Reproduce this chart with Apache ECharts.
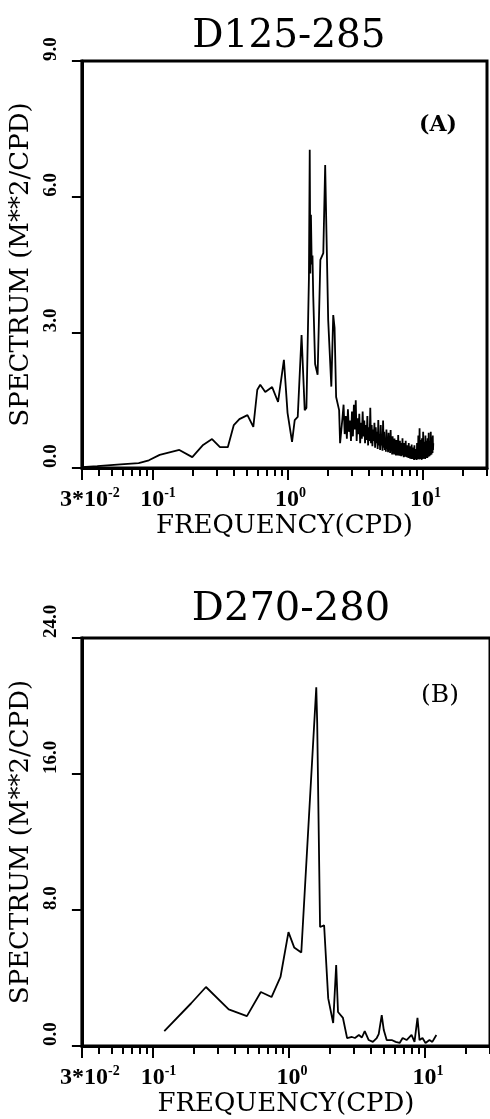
<!DOCTYPE html>
<html><head><meta charset="utf-8">
<script src="https://cdn.jsdelivr.net/npm/echarts@6/dist/echarts.min.js"></script>
<style>html,body{margin:0;padding:0;background:#fff;} #c{width:490px;height:1119px;}</style>
</head><body><div id="c"></div>
<script>
// ---------- DATA ----------
const titles = ['D125-285', 'D270-280'];
const panelTags = ['(A)', '(B)'];
const xName = 'FREQUENCY(CPD)';
const yName = 'SPECTRUM (M**2/CPD)';
const xMajorTicks = [0.03, 0.1, 1, 10];
const xTickBase = ['3*10', '10', '10', '10'];
const xTickExp = ['-2', '-1', '0', '1'];
const xMinorTicks = [0.04,0.05,0.06,0.07,0.08,0.09,0.2,0.3,0.4,0.5,0.6,0.7,0.8,0.9,2,3,4,5,6,7,8,9,20,30];
const yMaxA = 9, yStepA = 3;
const yMaxB = 24, yStepB = 8;

// Panel A, low-frequency part (CPD, M**2/CPD)
const freqA = [0.03,0.039,0.058,0.079,0.094,0.113,0.158,0.197,0.237,0.276,0.316,0.361,0.40,0.44,0.505,0.558,0.597,0.628,0.684,0.769,0.851,0.94,1.0,1.08,1.13,1.19,1.27,1.34,1.38,1.44,1.46,1.475,1.49,1.51,1.53,1.55,1.60,1.67,1.75,1.84,1.90,1.94,2.0,2.11,2.18,2.23,2.29,2.41,2.45];
const specA = [0.02,0.04,0.08,0.11,0.17,0.29,0.40,0.24,0.51,0.64,0.46,0.46,0.95,1.08,1.17,0.91,1.73,1.84,1.68,1.79,1.46,2.39,1.22,0.58,1.06,1.13,2.94,1.28,1.33,4.2,7.04,4.3,5.6,4.5,4.7,3.8,2.3,2.06,4.6,4.75,6.7,5.27,3.27,1.8,3.38,3.1,1.57,1.28,0.55];
// Panel A, noisy high-frequency part (rows of 10, step 0.05 CPD)
const noiseFreqA = [
  2.50,2.55,2.60,2.65,2.70,2.75,2.80,2.85,2.90,2.95,
  3.00,3.05,3.10,3.15,3.20,3.25,3.30,3.35,3.40,3.45,
  3.50,3.55,3.60,3.65,3.70,3.75,3.80,3.85,3.90,3.95,
  4.00,4.05,4.10,4.15,4.20,4.25,4.30,4.35,4.40,4.45,
  4.50,4.55,4.60,4.65,4.70,4.75,4.80,4.85,4.90,4.95,
  5.00,5.05,5.10,5.15,5.20,5.25,5.30,5.35,5.40,5.45,
  5.50,5.55,5.60,5.65,5.70,5.75,5.80,5.85,5.90,5.95,
  6.00,6.05,6.10,6.15,6.20,6.25,6.30,6.35,6.40,6.45,
  6.50,6.55,6.60,6.65,6.70,6.75,6.80,6.85,6.90,6.95,
  7.00,7.05,7.10,7.15,7.20,7.25,7.30,7.35,7.40,7.45,
  7.50,7.55,7.60,7.65,7.70,7.75,7.80,7.85,7.90,7.95,
  8.00,8.05,8.10,8.15,8.20,8.25,8.30,8.35,8.40,8.45,
  8.50,8.55,8.60,8.65,8.70,8.75,8.80,8.85,8.90,8.95,
  9.00,9.05,9.10,9.15,9.20,9.25,9.30,9.35,9.40,9.45,
  9.50,9.55,9.60,9.65,9.70,9.75,9.80,9.85,9.90,9.95,
  10.00,10.05,10.10,10.15,10.20,10.25,10.30,10.35,10.40,10.45,
  10.50,10.55,10.60,10.65,10.70,10.75,10.80,10.85,10.90,10.95,
  11.00,11.05,11.10,11.15,11.20,11.25,11.30,11.35,11.40,11.45,
  11.50,11.55,11.60,11.65,11.70,11.75,11.80,11.85,11.90,11.95,
  12.00];
const noiseSpecA = [
  0.55,1.10,1.40,0.75,1.15,0.65,1.30,0.80,1.05,0.60,
  1.25,0.70,1.40,0.85,1.50,0.60,1.10,0.75,1.20,0.55,
  1.00,0.65,1.25,0.70,1.05,0.55,0.95,0.62,1.15,0.50,
  0.90,0.60,1.33,0.55,0.95,0.48,0.85,0.60,1.00,0.45,
  0.90,0.55,0.80,0.42,1.06,0.50,0.75,0.40,0.95,0.50,
  0.70,0.38,1.05,0.45,0.80,0.40,0.65,0.36,0.85,0.42,
  0.60,0.35,0.78,0.40,0.55,0.33,0.84,0.38,0.60,0.30,
  0.70,0.35,0.50,0.30,0.65,0.32,0.48,0.28,0.62,0.35,
  0.45,0.28,0.73,0.32,0.50,0.27,0.60,0.30,0.42,0.26,
  0.55,0.30,0.66,0.28,0.45,0.24,0.55,0.30,0.40,0.25,
  0.60,0.28,0.38,0.24,0.50,0.27,0.42,0.22,0.55,0.26,
  0.36,0.21,0.48,0.25,0.35,0.20,0.52,0.24,0.34,0.20,
  0.45,0.22,0.30,0.18,0.50,0.23,0.33,0.19,0.42,0.22,
  0.30,0.18,0.55,0.24,0.40,0.20,0.72,0.25,0.35,0.19,
  0.88,0.28,0.45,0.20,0.62,0.24,0.38,0.18,0.66,0.26,
  0.40,0.20,0.80,0.28,0.45,0.21,0.58,0.26,0.38,0.20,
  0.72,0.28,0.45,0.22,0.60,0.26,0.40,0.22,0.66,0.28,
  0.42,0.25,0.78,0.30,0.48,0.26,0.60,0.30,0.45,0.28,
  0.80,0.35,0.55,0.30,0.68,0.34,0.50,0.33,0.72,0.40,
  0.55];

// Panel B
const freqB = [0.121,0.19,0.245,0.36,0.49,0.62,0.743,0.865,0.99,1.09,1.23,1.585,1.61,1.69,1.81,1.94,2.11,2.22,2.29,2.49,2.67,2.90,3.05,3.26,3.43,3.60,3.85,4.13,4.41,4.56,4.80,4.97,5.22,5.68,6.08,6.50,6.84,7.31,7.95,8.36,8.79,9.10,9.57,10.07,10.77,11.3,12.1];
const specB = [0.88,2.5,3.47,2.15,1.76,3.18,2.88,4.06,6.7,5.8,5.5,21.1,19.0,7.0,7.1,2.8,1.35,4.76,2.0,1.65,0.47,0.53,0.47,0.65,0.5,0.88,0.35,0.24,0.47,0.7,1.82,0.94,0.35,0.35,0.24,0.18,0.47,0.35,0.65,0.24,1.65,0.35,0.47,0.18,0.35,0.24,0.65];

// ---------- CHART ----------
const allFreqA = freqA.concat(noiseFreqA);
const allSpecA = specA.concat(noiseSpecA);
const seriesA = allFreqA.map((f, i) => [f, allSpecA[i]]);
const seriesB = freqB.map((f, i) => [f, specB[i]]);

const serifName = 'DejaVu Serif';
const tickFont = 'Liberation Serif';
const grids = [
  {left: 79, top: 61, width: 408, height: 407},
  {left: 80, top: 638, width: 412, height: 408}
];

function xLabelFmt(v) {
  for (let i = 0; i < xMajorTicks.length; i++) {
    if (Math.abs(Math.log10(v) - Math.log10(xMajorTicks[i])) < 0.01) {
      const padStyle = i === 0 ? 'b3' : (i === 1 ? 'b1' : 'b0');
      return '{' + padStyle + '|' + xTickBase[i] + '}{s|' + xTickExp[i] + '}';
    }
  }
  return '';
}
const baseRich = {fontFamily: tickFont, fontSize: 24, fontWeight: 'bold', color: '#000', lineHeight: 26, verticalAlign: 'bottom'};
const xRich = {
  b3: Object.assign({}, baseRich, {padding: [0, 0, 0, 16]}),
  b1: Object.assign({}, baseRich, {padding: [0, 0, 0, 11]}),
  b0: Object.assign({}, baseRich, {padding: [0, 0, 0, 6]}),
  s: {fontFamily: tickFont, fontSize: 14, fontWeight: 'bold', color: '#000', lineHeight: 26, verticalAlign: 'top', padding: [0, 0, 12, 0]}
};

const xAxes = [], yAxes = [];
[0, 1].forEach(gi => {
  xAxes.push({
    type: 'log', logBase: 10, min: 0.03, max: 30, gridIndex: gi, position: 'bottom',
    axisLine: {show: true, lineStyle: {color: '#000', width: 3}},
    axisTick: {show: true, customValues: xMajorTicks, length: 12, inside: false, lineStyle: {color: '#000', width: 2}},
    axisLabel: {show: true, customValues: xMajorTicks, formatter: xLabelFmt, rich: xRich, margin: 18, color: '#000', fontSize: 24},
    splitLine: {show: false}, minorTick: {show: false},
    name: xName, nameLocation: 'middle', nameGap: 40,
    nameTextStyle: {fontFamily: serifName, fontSize: 26, color: '#000'}
  });
  xAxes.push({
    type: 'log', logBase: 10, min: 0.03, max: 30, gridIndex: gi, position: 'bottom',
    axisLine: {show: false},
    axisTick: {show: true, customValues: xMinorTicks, length: 8, inside: false, lineStyle: {color: '#000', width: 2}},
    axisLabel: {show: false}, splitLine: {show: false}
  });
  const ymax = gi === 0 ? yMaxA : yMaxB;
  const ystep = gi === 0 ? yStepA : yStepB;
  yAxes.push({
    type: 'value', min: 0, max: ymax, interval: ystep, gridIndex: gi,
    axisLine: {show: true, lineStyle: {color: '#000', width: 3}},
    axisTick: {show: true, length: 10, lineStyle: {color: '#000', width: 2}},
    axisLabel: {rotate: 90, align: 'left', margin: 21, formatter: v => v.toFixed(1),
      fontFamily: tickFont, fontSize: 19, fontWeight: 'bold', color: '#000'},
    splitLine: {show: false},
    name: yName, nameLocation: 'middle', nameRotate: 90, nameGap: 36,
    nameTextStyle: {fontFamily: serifName, fontSize: 26, color: '#000'}
  });
});

const option = {
  animation: false,
  backgroundColor: '#fff',
  title: [
    {text: titles[0], left: 284, top: 12, textAlign: 'center', textStyle: {fontFamily: serifName, fontSize: 39, fontWeight: 'normal', color: '#000'}},
    {text: titles[1], left: 286, top: 585, textAlign: 'center', textStyle: {fontFamily: serifName, fontSize: 40, fontWeight: 'normal', color: '#000'}}
  ],
  grid: grids.map(g => Object.assign({show: true, borderColor: '#000', borderWidth: 3, backgroundColor: 'transparent', containLabel: false}, g)),
  xAxis: xAxes,
  yAxis: yAxes,
  graphic: [
    {type: 'text', left: 419, top: 114, style: {text: panelTags[0], fontFamily: serifName, fontSize: 22, fontWeight: 'bold', fill: '#000'}},
    {type: 'text', left: 421, top: 683, style: {text: panelTags[1], fontFamily: serifName, fontSize: 25, fontWeight: 'normal', fill: '#000'}}
  ],
  series: [
    {type: 'line', xAxisIndex: 0, yAxisIndex: 0, data: seriesA, showSymbol: false, symbol: 'none', silent: true,
      lineStyle: {color: '#000', width: 1.8}},
    {type: 'line', xAxisIndex: 2, yAxisIndex: 1, data: seriesB, showSymbol: false, symbol: 'none', silent: true,
      lineStyle: {color: '#000', width: 1.8}}
  ]
};
const chart = echarts.init(document.getElementById('c'), null, {renderer: 'canvas'});
chart.setOption(option);
</script>
</body></html>
